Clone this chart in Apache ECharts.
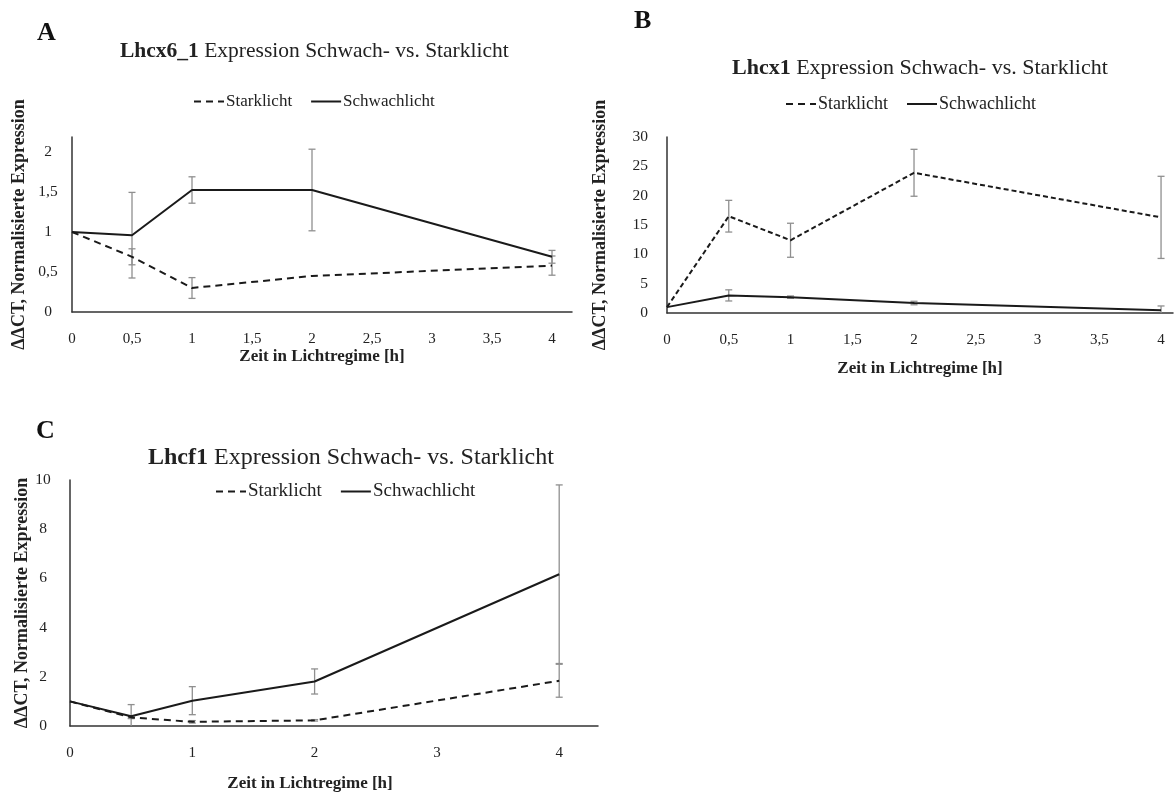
<!DOCTYPE html>
<html>
<head>
<meta charset="utf-8">
<script src="https://cdn.jsdelivr.net/npm/echarts@6/dist/echarts.min.js"></script>
<style>html,body{margin:0;padding:0;background:#fff}#c{width:1176px;height:793px}</style>
</head>
<body>
<div id="c"></div>
<script>
// ---- data ----
const times = [0, 0.5, 1, 2, 4];
// Panel A: Lhcx6_1
const aStark = [1.0, 0.69, 0.30, 0.45, 0.58];
const aStarkErr = [0, 0.10, 0.13, 0, 0.12];
const aSchwach = [1.0, 0.96, 1.525, 1.525, 0.69];
const aSchwachErr = [0, 0.535, 0.165, 0.51, 0.08];
// Panel B: Lhcx1
const bStark = [1.0, 16.5, 12.4, 23.9, 16.3];
const bStarkErr = [0, 2.7, 2.9, 4.0, 7.0];
const bSchwach = [1.0, 3.0, 2.7, 1.7, 0.45];
const bSchwachErr = [0, 0.95, 0.2, 0.3, 0.75];
// Panel C: Lhcf1
const cStark = [1.0, 0.35, 0.17, 0.23, 1.84];
const cStarkErr = [0, 0.05, 0.05, 0.03, 0.67];
const cSchwach = [1.0, 0.40, 1.03, 1.81, 6.17];
const cSchwachErr = [0, 0.47, 0.57, 0.51, 3.63];

const titles = ['{b|Lhcx6_1} Expression Schwach- vs. Starklicht',
                '{b|Lhcx1} Expression Schwach- vs. Starklicht',
                '{b|Lhcf1} Expression Schwach- vs. Starklicht'];
const panelLetters = ['A', 'B', 'C'];
const xName = 'Zeit in Lichtregime [h]';
const yName = 'ΔΔCT, Normalisierte Expression';
const seriesNames = ['Starklicht', 'Schwachlicht'];

const FONT = 'Liberation Serif';
const lineColor = '#1a1a1a';
const errColor = '#8f8f8f';

function fmt(interval) {
  return function (v) {
    const k = v / interval;
    if (Math.abs(k - Math.round(k)) > 1e-6) return '';
    return String(Math.round(v * 1000) / 1000).replace('.', ',');
  };
}
function pts(xs, ys) { return xs.map((x, i) => [x, ys[i]]); }
function errPts(xs, ys, es) {
  const out = [];
  xs.forEach((x, i) => { if (es[i] > 0) out.push([x, ys[i] - es[i], ys[i] + es[i]]); });
  return out;
}
function errSeries(idx, data) {
  return {
    type: 'custom', xAxisIndex: idx, yAxisIndex: idx, silent: true, clip: true, z: 3,
    data: data,
    renderItem: function (params, api) {
      const x = api.value(0), lo = api.value(1), hi = api.value(2);
      const p1 = api.coord([x, lo]), p2 = api.coord([x, hi]);
      const w = 3.5;
      const st = { stroke: errColor, lineWidth: 1.3 };
      return { type: 'group', children: [
        { type: 'line', shape: { x1: p1[0], y1: p1[1], x2: p2[0], y2: p2[1] }, style: st },
        { type: 'line', shape: { x1: p1[0] - w, y1: p1[1], x2: p1[0] + w, y2: p1[1] }, style: st },
        { type: 'line', shape: { x1: p2[0] - w, y1: p2[1], x2: p2[0] + w, y2: p2[1] }, style: st }
      ]};
    }
  };
}
function lineSeries(idx, name, data, dash) {
  return {
    type: 'line', name: name, xAxisIndex: idx, yAxisIndex: idx, data: data,
    symbol: 'none', z: 4,
    lineStyle: { color: lineColor, width: 2, type: dash || 'solid' },
    itemStyle: { color: lineColor }
  };
}

const grids = [
  { left: 72, top: 137, width: 500, height: 175 },
  { left: 667, top: 137, width: 508, height: 176 },
  { left: 70, top: 480, width: 528, height: 248 }
];
const xCfg = [
  { max: 500 / 120, interval: 0.5, nameGap: 34, namePad: [0, 0, 0, 0] },
  { max: 508 / 124, interval: 0.5, nameGap: 47, namePad: [0, 0, 0, 0] },
  { max: 528 / 122.3, interval: 1, nameGap: 49, namePad: [0, 48, 0, 0] }
];
const yCfg = [
  { max: 175 / 80, interval: 0.5, nameGap: 44, margin: 24, align: 'center' },
  { max: 30, interval: 5, nameGap: 58, margin: 19, align: 'right' },
  { max: 10, interval: 2, nameGap: 37, margin: 27, align: 'center' }
];
const dashes = [[7, 5], [5, 3], [7, 5]];

const option = {
  backgroundColor: '#fff',
  animation: false,
  textStyle: { fontFamily: FONT, color: '#222' },
  title: [
    { text: titles[0], left: 115, top: 35, fs: 21.5 },
    { text: titles[1], left: 727, top: 52, fs: 22 },
    { text: titles[2], left: 143, top: 441, fs: 24 }
  ].map(t => ({
    text: t.text, left: t.left, top: t.top,
    textStyle: { fontFamily: FONT, fontSize: t.fs, fontWeight: 'normal', color: '#222',
      rich: { b: { fontFamily: FONT, fontSize: t.fs, fontWeight: 'bold', color: '#222' } } }
  })).concat([
    { text: panelLetters[0], left: 32, top: 15 },
    { text: panelLetters[1], left: 629, top: 3 },
    { text: panelLetters[2], left: 31, top: 413 }
  ].map(t => Object.assign(t, {
    textStyle: { fontFamily: FONT, fontSize: 26, fontWeight: 'bold', color: '#111' }
  }))),
  legend: [
    { left: 188, top: 88, fs: 17 },
    { left: 780, top: 90, fs: 18 },
    { left: 210, top: 477, fs: 19 }
  ].map(l => ({
    left: l.left, top: l.top,
    data: seriesNames, itemWidth: 30, itemHeight: 10, itemGap: 18,
    itemStyle: { opacity: 0, borderWidth: 0 },
    textStyle: { fontFamily: FONT, fontSize: l.fs, color: '#222', padding: [0, 0, 0, -3] }
  })),
  grid: grids,
  xAxis: xCfg.map((c, i) => ({
    type: 'value', gridIndex: i, min: 0, max: c.max, interval: c.interval,
    name: xName, nameLocation: 'middle', nameGap: c.nameGap,
    nameTextStyle: { fontFamily: FONT, fontSize: 17, fontWeight: 'bold', color: '#222', padding: c.namePad },
    axisLine: { show: true, lineStyle: { color: '#333', width: 1.5 } },
    axisTick: { show: false }, splitLine: { show: false },
    axisLabel: { formatter: fmt(c.interval), fontFamily: FONT, fontSize: 15, color: '#222', margin: 20, showMaxLabel: true }
  })),
  yAxis: yCfg.map((c, i) => ({
    type: 'value', gridIndex: i, min: 0, max: c.max, interval: c.interval,
    name: yName, nameLocation: 'middle', nameGap: c.nameGap, nameRotate: 90,
    nameTextStyle: { fontFamily: FONT, fontSize: 18, fontWeight: 'bold', color: '#222' },
    axisLine: { show: true, lineStyle: { color: '#333', width: 1.5 } },
    axisTick: { show: false }, splitLine: { show: false },
    axisLabel: { formatter: fmt(c.interval), fontFamily: FONT, fontSize: 15.5, color: '#222', margin: c.margin, align: c.align }
  })),
  series: [
    errSeries(0, errPts(times, aSchwach, aSchwachErr)),
    errSeries(0, errPts(times, aStark, aStarkErr)),
    lineSeries(0, seriesNames[0], pts(times, aStark), dashes[0]),
    lineSeries(0, seriesNames[1], pts(times, aSchwach)),
    errSeries(1, errPts(times, bSchwach, bSchwachErr)),
    errSeries(1, errPts(times, bStark, bStarkErr)),
    lineSeries(1, seriesNames[0], pts(times, bStark), dashes[1]),
    lineSeries(1, seriesNames[1], pts(times, bSchwach)),
    errSeries(2, errPts(times, cSchwach, cSchwachErr)),
    errSeries(2, errPts(times, cStark, cStarkErr)),
    lineSeries(2, seriesNames[0], pts(times, cStark), dashes[2]),
    lineSeries(2, seriesNames[1], pts(times, cSchwach))
  ]
};
const chart = echarts.init(document.getElementById('c'), null, { renderer: 'canvas' });
chart.setOption(option);
</script>
</body>
</html>
